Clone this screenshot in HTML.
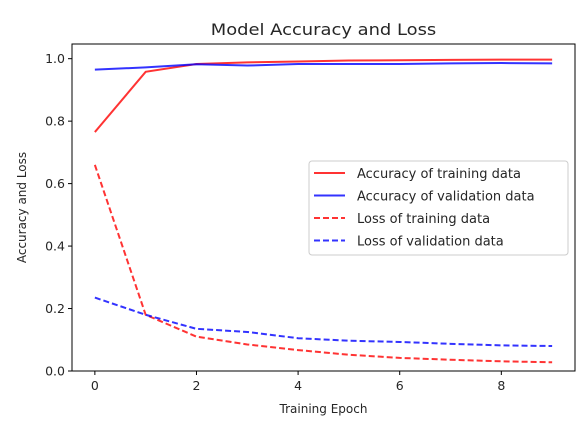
<!DOCTYPE html>
<html><head><meta charset="utf-8"><style>
body{margin:0;background:#fff;font-family:"DejaVu Sans","Liberation Sans",sans-serif;}
svg text{font-family:"DejaVu Sans","Liberation Sans",sans-serif;fill:#262626;}
</style></head><body>
<svg id="chart" width="583" height="424" xmlns="http://www.w3.org/2000/svg"></svg>
<script>
const epochs=[0,1,2,3,4,5,6,7,8,9];
const trainAcc=[0.765,0.958,0.983,0.988,0.991,0.994,0.995,0.996,0.997,0.997];
const valAcc=[0.965,0.972,0.982,0.978,0.983,0.983,0.983,0.985,0.986,0.985];
const trainLoss=[0.66,0.18,0.11,0.085,0.067,0.052,0.042,0.036,0.031,0.028];
const valLoss=[0.235,0.18,0.135,0.125,0.105,0.097,0.093,0.087,0.082,0.08];
const xTicks=[0,2,4,6,8];
const yTicks=[0,0.2,0.4,0.6,0.8,1.0];
const L=72,R=575,T=44,B=371;
const xMin=-0.45,xMax=9.45,yMin=0,yMax=1.047;
const X=v=>L+(v-xMin)/(xMax-xMin)*(R-L);
const Y=v=>B-(v-yMin)/(yMax-yMin)*(B-T);
const svg=document.getElementById('chart');
const NS='http://www.w3.org/2000/svg';
function mk(tag,attrs,parent){const e=document.createElementNS(NS,tag);for(const k in attrs)e.setAttribute(k,attrs[k]);(parent||svg).appendChild(e);return e;}
let t=mk('text',{x:(L+R)/2,y:35,'text-anchor':'middle','font-size':16,transform:`translate(${(L+R)/2},0) scale(1.12,1) translate(${-(L+R)/2},0)`});t.textContent='Model Accuracy and Loss';


xTicks.forEach(v=>{
 const l=mk('line',{x1:X(v),x2:X(v),y1:B,y2:B+4,stroke:'#000','stroke-width':1});
 
 
 const tx=mk('text',{x:X(v),y:B+19,'text-anchor':'middle','font-size':12.5});tx.textContent=v;
 
 
});
yTicks.forEach(v=>{
 const l=mk('line',{x1:L-4,x2:L,y1:Y(v),y2:Y(v),stroke:'#000','stroke-width':1});
 
 
 const tx=mk('text',{x:L-7,y:Y(v)+4.5,'text-anchor':'end','font-size':12.5});tx.textContent=v.toFixed(1);
 
 
});
t=mk('text',{x:(L+R)/2,y:413,'text-anchor':'middle','font-size':12});t.textContent='Training Epoch';


t=mk('text',{x:0,y:0,'text-anchor':'middle','font-size':12,transform:`translate(26,${(T+B)/2}) rotate(-90)`});t.textContent='Accuracy and Loss';


const series=[
 {d:trainAcc,c:'#ff0000',dash:'',n:'train-accuracy-line',label:'Accuracy of training data'},
 {d:valAcc,c:'#0000ff',dash:'',n:'validation-accuracy-line',label:'Accuracy of validation data'},
 {d:trainLoss,c:'#ff0000',dash:'6,3',n:'train-loss-line',label:'Loss of training data'},
 {d:valLoss,c:'#0000ff',dash:'6,3',n:'validation-loss-line',label:'Loss of validation data'}];
series.forEach(s=>{
 const p=mk('polyline',{points:s.d.map((v,i)=>X(epochs[i])+','+Y(v)).join(' '),fill:'none',stroke:s.c,'stroke-opacity':0.8,'stroke-width':2,'stroke-dasharray':s.dash});
 
 
});
const fr=mk('rect',{x:L,y:T,width:R-L,height:B-T,fill:'none',stroke:'#000','stroke-width':1});


const g=mk('g',{});


mk('rect',{x:309,y:161,width:259,height:94,rx:3,fill:'#fff','fill-opacity':0.8,stroke:'#ccc','stroke-width':1},g);
series.forEach((s,i)=>{
 const y=173+i*22.5;
 const ln=mk('line',{x1:314,x2:345,y1:y,y2:y,stroke:s.c,'stroke-opacity':0.8,'stroke-width':2,'stroke-dasharray':s.dash},g);
 
 
 const tx=mk('text',{x:357,y:y+5,'font-size':13},g);tx.textContent=s.label;
 
 
});
</script>
</body></html>
